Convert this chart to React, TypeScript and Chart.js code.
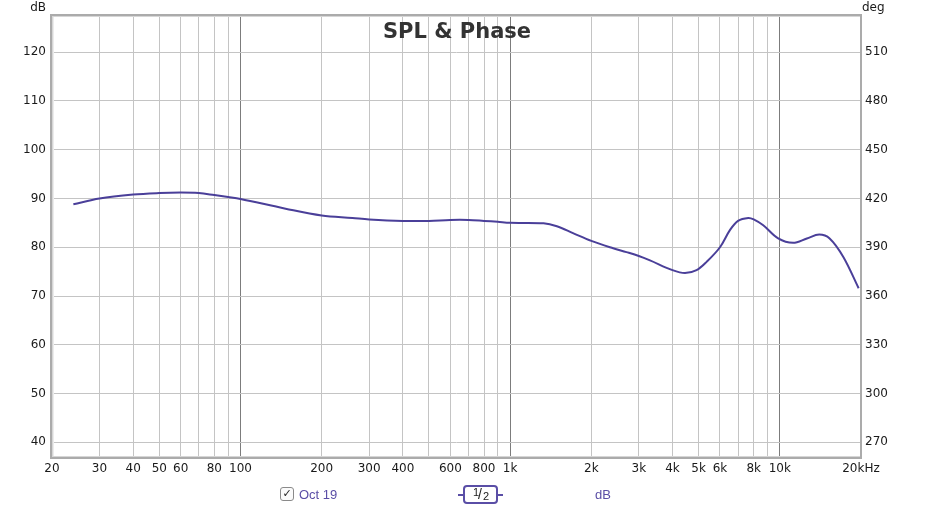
import React, { useEffect, useRef } from "react";
import { Chart, registerables } from "chart.js";

Chart.register(...registerables);

// ---- data ----
const freqs = [24, 30, 40, 50, 60, 70, 80, 90, 100, 147, 200, 260, 300, 400, 500, 600, 700, 800, 900, 1000, 1330, 1490, 1710, 2000, 2410, 2700, 3000, 3300, 4000, 4450, 4910, 5350, 6000, 6530, 7000, 7640, 8000, 8680, 9860, 11200, 12600, 14000, 15300, 17200, 19600];
const splDb = [88.8, 90.0, 90.8, 91.1, 91.2, 91.1, 90.7, 90.3, 89.9, 87.9, 86.5, 86.0, 85.7, 85.4, 85.4, 85.6, 85.6, 85.4, 85.2, 85.0, 84.9, 84.3, 82.9, 81.3, 79.8, 79.0, 78.2, 77.3, 75.3, 74.7, 75.3, 77.0, 80.0, 83.5, 85.4, 86.0, 85.7, 84.5, 81.8, 80.9, 81.8, 82.6, 81.8, 78.0, 71.6];

const dbTicks = [40, 50, 60, 70, 80, 90, 100, 110, 120];
const degTicks = [270, 300, 330, 360, 390, 420, 450, 480, 510];
const freqTicks = [20, 30, 40, 50, 60, 70, 80, 90, 100, 200, 300, 400, 500, 600, 700, 800, 900, 1000, 2000, 3000, 4000, 5000, 6000, 7000, 8000, 9000, 10000, 20000];
const freqLabels = ["20", "30", "40", "50", "60", "", "80", "", "100", "200", "300", "400", "", "600", "", "800", "", "1k", "2k", "3k", "4k", "5k", "6k", "", "8k", "", "10k", "20kHz"];
const decadeLines = [100, 1000, 10000];

const DB_MIN = 37.0;
const DB_MAX = 127.4;
const degOf = (db: number) => db * 3 + 150;

const TITLE = "SPL & Phase";
const SERIES = "Oct 19";
const LINE_COLOR = "#4a3f99";
const PURPLE_TEXT = "#5a4ea6";
const FONT = '"DejaVu Sans", sans-serif';

const framePlugin = {
  id: "frame",
  afterDraw(chart: any) {
    const { ctx, chartArea } = chart;
    const l = Math.round(chartArea.left);
    const t = Math.round(chartArea.top);
    const r = Math.round(chartArea.right);
    const b = Math.round(chartArea.bottom);
    ctx.save();
    ctx.fillStyle = "#ababab";
    ctx.fillRect(l - 2, t - 2, r - l + 3, 2);
    ctx.fillRect(l - 2, t - 2, 2, b - t + 4);
    ctx.fillRect(r - 1, t - 2, 2, b - t + 4);
    ctx.fillRect(l - 2, b, r - l + 3, 2);
    ctx.fillStyle = "#d6d6d6";
    ctx.fillRect(l, t, 1, b - t);
    ctx.fillRect(l, b - 1, r - l - 1, 1);
    ctx.fillRect(l, t, r - l - 1, 1);
    ctx.fillStyle = "#ececec";
    ctx.fillRect(l + 1, t + 1, 1, b - t - 2);
    ctx.fillStyle = "#333333";
    ctx.font = `bold 21px ${FONT}`;
    ctx.textAlign = "center";
    ctx.textBaseline = "alphabetic";
    ctx.fillText(TITLE, (l + r) / 2 + 0.5, 38);
    ctx.fillStyle = "#1a1a1a";
    ctx.font = `12px ${FONT}`;
    ctx.textAlign = "right";
    ctx.fillText("dB", 46, 11);
    ctx.textAlign = "left";
    ctx.fillText("deg", 862, 11);
    ctx.restore();
  },
};

export default function App() {
  const ref = useRef<HTMLCanvasElement | null>(null);

  useEffect(() => {
    if (!ref.current) return;
    const chart = new Chart(ref.current, {
      type: "line",
      data: {
        datasets: [
          {
            label: SERIES,
            data: freqs.map((f, i) => ({ x: f, y: splDb[i] })),
            borderColor: LINE_COLOR,
            borderWidth: 2,
            pointRadius: 0,
            fill: false,
            tension: 0.35,
            yAxisID: "y",
          },
        ],
      },
      options: {
        animation: false,
        responsive: false,
        devicePixelRatio: 1,
        layout: { padding: { top: 16, left: 0, right: 0, bottom: 0 } },
        plugins: { legend: { display: false }, title: { display: false }, tooltip: { enabled: false } },
        scales: {
          x: {
            type: "logarithmic",
            min: 20,
            max: 20000,
            afterBuildTicks: (scale: any) => {
              scale.ticks = freqTicks.map((v) => ({ value: v }));
            },
            afterFit: (scale: any) => {
              scale.height = 54;
            },
            ticks: {
              autoSkip: false,
              maxRotation: 0,
              minRotation: 0,
              padding: 5,
              color: "#1a1a1a",
              font: { family: FONT, size: 12 },
              callback: (_v: any, i: number) => freqLabels[i],
            },
            grid: {
              drawTicks: false,
              color: (c: any) => (decadeLines.includes(c.tick?.value) ? "#7c7c7c" : "#c4c4c4"),
            },
            border: { display: false },
          },
          y: {
            type: "linear",
            position: "left",
            min: DB_MIN,
            max: DB_MAX,
            afterBuildTicks: (scale: any) => {
              scale.ticks = dbTicks.map((v) => ({ value: v }));
            },
            afterFit: (scale: any) => {
              scale.width = 52;
            },
            ticks: {
              padding: 6,
              color: "#1a1a1a",
              font: { family: FONT, size: 12 },
              callback: (v: any) => String(v),
            },
            grid: { drawTicks: false, color: "#c4c4c4" },
            border: { display: false },
          },
          y2: {
            type: "linear",
            position: "right",
            min: degOf(DB_MIN),
            max: degOf(DB_MAX),
            afterBuildTicks: (scale: any) => {
              scale.ticks = degTicks.map((v) => ({ value: v }));
            },
            afterFit: (scale: any) => {
              scale.width = 65;
            },
            ticks: {
              padding: 4,
              color: "#1a1a1a",
              font: { family: FONT, size: 12 },
              callback: (v: any) => String(v),
            },
            grid: { display: false, drawTicks: false },
            border: { display: false },
          },
        },
      },
      plugins: [framePlugin],
    } as any);
    return () => chart.destroy();
  }, []);

  return (
    <div style={{ position: "absolute", left: 0, top: 0, width: 926, height: 511, background: "#fff" }}>
      <canvas ref={ref} width={926} height={511} style={{ display: "block", width: 926, height: 511 }} />
      <div
        style={{
          position: "absolute",
          left: 280,
          top: 487,
          width: 12,
          height: 12,
          border: "1px solid #8a8a8a",
          borderRadius: 3,
          fontFamily: FONT,
          fontSize: 11,
          lineHeight: "12px",
          textAlign: "center",
          color: "#222",
          background: "#fbfbfb",
        }}
      >
        ✓
      </div>
      <div
        style={{
          position: "absolute",
          left: 299,
          top: 488,
          fontFamily: '"Liberation Sans", Arial, sans-serif',
          fontSize: 13,
          lineHeight: "13px",
          color: PURPLE_TEXT,
          whiteSpace: "nowrap",
        }}
      >
        {SERIES}
      </div>
      <div style={{ position: "absolute", left: 458, top: 494, width: 5, height: 2, background: PURPLE_TEXT }} />
      <div style={{ position: "absolute", left: 498, top: 494, width: 5, height: 2, background: PURPLE_TEXT }} />
      <div
        style={{
          position: "absolute",
          left: 463,
          top: 485,
          width: 31,
          height: 15,
          border: `2px solid ${PURPLE_TEXT}`,
          borderRadius: 4,
          fontFamily: '"Liberation Sans", Arial, sans-serif',
          fontSize: 12,
          color: "#222",
          background: "#fff",
        }}
      >
        <span style={{ position: "absolute", left: 8, top: -1, fontSize: 11 }}>1</span>
        <span style={{ position: "absolute", left: 13, top: 0, fontSize: 14, lineHeight: "15px" }}>/</span>
        <span style={{ position: "absolute", left: 18, top: 3, fontSize: 11 }}>2</span>
      </div>
      <div
        style={{
          position: "absolute",
          left: 595,
          top: 488,
          fontFamily: '"Liberation Sans", Arial, sans-serif',
          fontSize: 13,
          lineHeight: "13px",
          color: PURPLE_TEXT,
        }}
      >
        dB
      </div>
    </div>
  );
}
